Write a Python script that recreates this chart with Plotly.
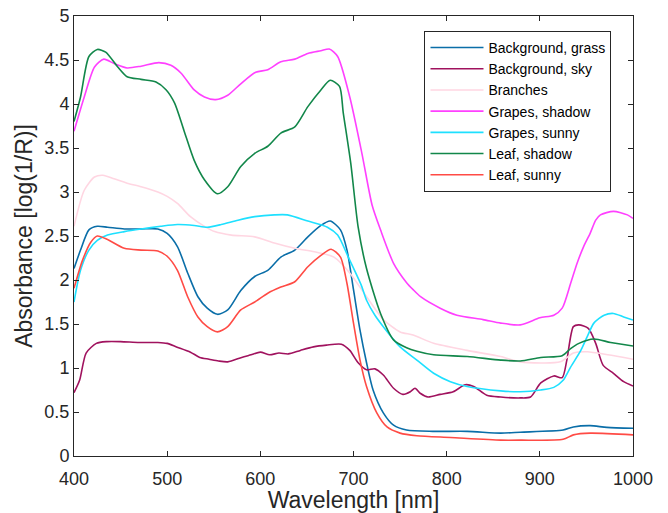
import plotly.graph_objects as go

# ---- data ----
grass_wl = [400,407,416,425,436,454,472,490,500,511,522,533,543,554,565,579,594,608,622,637,651,665,675,686,693,700,707,714,721,732,743,757,785,822,858,879,925,936,954,972,1000]
grass = [2.13,2.34,2.57,2.61,2.60,2.58,2.58,2.58,2.53,2.38,2.08,1.81,1.68,1.61,1.66,1.88,2.04,2.11,2.26,2.34,2.49,2.62,2.67,2.57,2.34,1.89,1.43,1.06,0.75,0.49,0.35,0.295,0.28,0.28,0.26,0.27,0.295,0.33,0.345,0.325,0.315]

sky_wl = [400,406,413,424,435,450,470,490,500,510,525,535,545,555,565,580,590,600,610,620,630,643,657,671,687,696,705,714,723,732,743,753,761,766,772,780,793,807,820,829,843,858,879,890,901,915,924,929,936,942,952,960,968,979,990,1000]
sky = [0.72,0.86,1.17,1.28,1.30,1.30,1.29,1.29,1.28,1.24,1.18,1.12,1.10,1.08,1.07,1.12,1.15,1.18,1.15,1.17,1.16,1.20,1.24,1.26,1.27,1.20,1.06,0.98,0.99,0.92,0.77,0.70,0.73,0.77,0.71,0.67,0.70,0.73,0.81,0.79,0.69,0.67,0.66,0.67,0.83,0.91,0.89,1.09,1.47,1.49,1.45,1.28,1.03,0.94,0.845,0.795]

branches_wl = [400,411,422,431,443,457,472,490,500,511,525,540,551,569,594,615,637,658,679,696,714,732,750,764,786,822,858,879,922,936,951,973,1000]
branches = [2.61,3.02,3.17,3.19,3.15,3.10,3.06,3.00,2.95,2.87,2.72,2.61,2.55,2.51,2.49,2.42,2.36,2.32,2.26,2.08,1.81,1.55,1.41,1.375,1.28,1.20,1.13,1.07,1.07,1.17,1.185,1.15,1.10]

grapes_sh_wl = [400,411,422,432,443,457,472,491,504,515,529,540,552,565,579,595,608,622,637,651,665,674,683,696,709,720,729,743,757,764,772,793,811,839,858,879,900,915,924,933,940,947,954,960,965,979,994,1000]
grapes_sh = [3.69,4.08,4.42,4.51,4.46,4.41,4.43,4.47,4.44,4.35,4.16,4.08,4.05,4.10,4.23,4.36,4.39,4.48,4.51,4.575,4.605,4.625,4.54,4.08,3.44,2.85,2.57,2.19,1.97,1.89,1.81,1.68,1.60,1.55,1.51,1.49,1.57,1.60,1.68,1.96,2.19,2.38,2.53,2.68,2.74,2.78,2.74,2.70]

grapes_sun_wl = [400,407,416,425,436,454,472,493,511,529,543,558,576,594,615,629,651,672,683,694,708,714,723,732,750,768,786,804,822,858,879,901,915,925,933,944,951,958,969,979,990,1000]
grapes_sun = [1.75,2.11,2.34,2.45,2.51,2.55,2.58,2.61,2.63,2.62,2.60,2.63,2.68,2.72,2.74,2.74,2.67,2.60,2.51,2.27,1.95,1.77,1.60,1.47,1.24,1.09,0.94,0.845,0.79,0.74,0.73,0.75,0.78,0.86,1.01,1.20,1.36,1.51,1.60,1.62,1.58,1.545]

leaf_sh_wl = [400,407,416,425,434,447,457,472,488,499,508,518,529,540,554,565,579,594,608,622,637,651,665,675,685,689,697,705,714,729,743,757,768,786,822,858,879,901,924,933,942,958,976,1000]
leaf_sh = [3.80,4.08,4.54,4.62,4.59,4.42,4.31,4.28,4.25,4.16,4.01,3.70,3.36,3.14,2.98,3.06,3.29,3.44,3.52,3.67,3.74,3.97,4.16,4.27,4.20,3.90,3.33,2.60,2.13,1.62,1.32,1.23,1.19,1.15,1.13,1.09,1.08,1.12,1.14,1.22,1.28,1.33,1.29,1.25]

leaf_sun_wl = [400,409,418,425,436,454,472,490,500,511,522,533,543,554,565,579,594,608,622,637,651,665,676,686,693,700,707,714,725,736,750,768,804,858,879,925,936,954,1000]
leaf_sun = [1.905,2.22,2.43,2.50,2.46,2.36,2.34,2.33,2.27,2.11,1.81,1.58,1.47,1.41,1.47,1.66,1.75,1.85,1.92,1.98,2.15,2.28,2.35,2.26,1.96,1.51,1.09,0.79,0.49,0.33,0.26,0.23,0.21,0.18,0.18,0.19,0.24,0.26,0.24]

names = ["Background, grass", "Background, sky", "Branches", "Grapes, shadow",
         "Grapes, sunny", "Leaf, shadow", "Leaf, sunny"]
series = [(grass_wl, grass), (sky_wl, sky), (branches_wl, branches), (grapes_sh_wl, grapes_sh),
          (grapes_sun_wl, grapes_sun), (leaf_sh_wl, leaf_sh), (leaf_sun_wl, leaf_sun)]
colors = ["#0a6ea8", "#a0125e", "#ffd6e2", "#ff40ff", "#1ee0ff", "#12874a", "#ff4b45"]

x_ticks = [400, 500, 600, 700, 800, 900, 1000]
y_ticks = [0, 0.5, 1, 1.5, 2, 2.5, 3, 3.5, 4, 4.5, 5]

fig = go.Figure()
for (wl, a), name, c in zip(series, names, colors):
    fig.add_trace(go.Scatter(x=wl, y=a, name=name, mode="lines",
                             line=dict(color=c, width=1.6, shape="spline", smoothing=0.7)))

axis_common = dict(showline=True, linecolor="#262626", linewidth=1, mirror="ticks",
                   ticks="inside", ticklen=5, tickcolor="#262626", showgrid=False,
                   zeroline=False, tickfont=dict(size=18, color="#262626"))
fig.update_xaxes(range=[400, 1000], tickvals=x_ticks, ticklabelstandoff=6,
                 title=dict(text="Wavelength [nm]", font=dict(size=23, color="#262626"), standoff=0),
                 **axis_common)
fig.update_yaxes(range=[0, 5.0001], tickvals=y_ticks,
                 title=dict(text="Absorbance [log(1/R)]", font=dict(size=23, color="#262626"), standoff=5),
                 **axis_common)

fig.update_layout(
    width=668, height=513,
    margin=dict(l=74, r=35, t=16, b=57, autoexpand=False),
    plot_bgcolor="white", paper_bgcolor="white",
    font=dict(family="Liberation Sans, Arial, sans-serif", color="#262626"),
    legend=dict(x=0.627, y=0.966, xanchor="left", yanchor="top",
                bgcolor="white", bordercolor="#262626", borderwidth=1,
                font=dict(size=14, color="#000000"), tracegroupgap=0,
                itemwidth=53),
    showlegend=True,
)

fig.write_html("out.html", config={"displayModeBar": False},
               post_script="document.body.style.margin='0px';")
